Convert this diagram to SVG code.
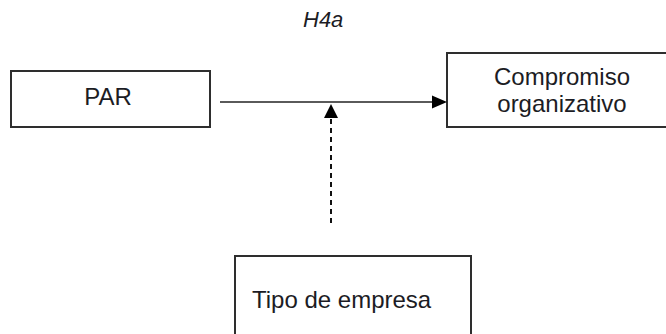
<svg xmlns="http://www.w3.org/2000/svg" width="666" height="334" viewBox="0 0 666 334">
  <defs>
    <style>
      .box { fill: #ffffff; stroke: #2e2e2e; stroke-width: 2; }
      .label { font-family: "Liberation Sans", Arial, sans-serif; font-size: 24px; fill: #1c1c24; }
      .hyp { font-family: "Liberation Sans", Arial, sans-serif; font-size: 22px; font-style: italic; fill: #1c1c24; }
      .main { stroke: #5a5a5a; stroke-width: 2; fill: none; }
      .moderator { stroke: #111111; stroke-width: 2; stroke-dasharray: 5 4; fill: none; }
      .head { fill: #000000; }
    </style>
  </defs>
  <rect width="666" height="334" fill="#ffffff"/>

  <text class="hyp" x="303" y="27">H4a</text>

  <g id="par">
    <rect class="box" x="11" y="71" width="199" height="56"/>
    <text class="label" x="108" y="105" text-anchor="middle">PAR</text>
  </g>

  <g id="compromiso">
    <rect class="box" x="447" y="53" width="240" height="74"/>
    <text class="label" x="562" y="85" text-anchor="middle">Compromiso</text>
    <text class="label" x="562" y="112" text-anchor="middle">organizativo</text>
  </g>

  <g id="tipo">
    <rect class="box" x="235" y="256" width="236" height="90"/>
    <text class="label" x="252" y="308">Tipo de empresa</text>
  </g>

  <g id="connectors">
    <line class="main" x1="220" y1="102" x2="434" y2="102"/>
    <polygon class="head" points="447,102 432,95.5 432,108.5"/>
    <line class="moderator" x1="331" y1="223" x2="331" y2="116"/>
    <polygon class="head" points="331,104 324,118 338,118"/>
  </g>
</svg>
